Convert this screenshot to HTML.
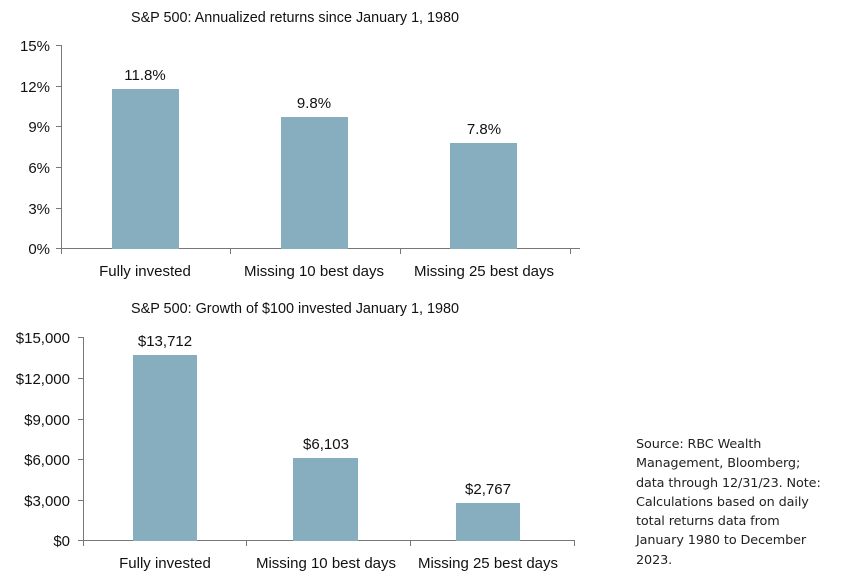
<!DOCTYPE html>
<html><head><style>
body{margin:0;background:#fff;width:841px;height:577px;overflow:hidden;position:relative}
svg{position:absolute;left:0;top:0}
.note{position:absolute;left:636px;top:435px;width:210px;font-family:"DejaVu Sans","Liberation Sans",sans-serif;font-size:12.8px;line-height:19.3px;color:#222;letter-spacing:-0.1px;white-space:nowrap}
</style></head><body>
<svg width="841" height="577" viewBox="0 0 841 577">
<g font-family="Liberation Sans,sans-serif" font-size="15" fill="#111">
<g text-anchor="end">
<text x="50" y="51">15%</text><text x="50" y="92">12%</text><text x="50" y="132">9%</text>
<text x="50" y="173">6%</text><text x="50" y="214">3%</text><text x="50" y="254">0%</text>
</g>
<g stroke="#777" stroke-width="1">
<line x1="61.5" y1="45" x2="61.5" y2="249"/>
<line x1="56" y1="45.5" x2="61" y2="45.5"/><line x1="56" y1="86.5" x2="61" y2="86.5"/>
<line x1="56" y1="126.5" x2="61" y2="126.5"/><line x1="56" y1="167.5" x2="61" y2="167.5"/>
<line x1="56" y1="208.5" x2="61" y2="208.5"/><line x1="56" y1="248.5" x2="580" y2="248.5"/>
<line x1="61.5" y1="249" x2="61.5" y2="254"/><line x1="230.5" y1="249" x2="230.5" y2="254"/>
<line x1="400.5" y1="249" x2="400.5" y2="254"/><line x1="570.5" y1="249" x2="570.5" y2="254"/>
</g>
<g fill="#87aebf">
<rect x="112" y="89" width="67" height="160"/>
<rect x="281" y="117" width="67" height="132"/>
<rect x="450" y="143" width="67" height="106"/>
</g>
<g text-anchor="middle">
<text x="145" y="80">11.8%</text><text x="314" y="108">9.8%</text><text x="484" y="134">7.8%</text>
<text x="145" y="276">Fully invested</text><text x="314" y="276">Missing 10 best days</text><text x="484" y="276">Missing 25 best days</text>
</g>
<text x="131" y="22" textLength="328" lengthAdjust="spacingAndGlyphs">S&amp;P 500: Annualized returns since January 1, 1980</text>
<text x="131" y="313" textLength="328" lengthAdjust="spacingAndGlyphs">S&amp;P 500: Growth of $100 invested January 1, 1980</text>

<g text-anchor="end">
<text x="70" y="343">$15,000</text><text x="70" y="384">$12,000</text><text x="70" y="425">$9,000</text>
<text x="70" y="465">$6,000</text><text x="70" y="506">$3,000</text><text x="70" y="546">$0</text>
</g>
<g stroke="#777" stroke-width="1">
<line x1="83.5" y1="337" x2="83.5" y2="541"/>
<line x1="78" y1="337.5" x2="83" y2="337.5"/><line x1="78" y1="378.5" x2="83" y2="378.5"/>
<line x1="78" y1="419.5" x2="83" y2="419.5"/><line x1="78" y1="459.5" x2="83" y2="459.5"/>
<line x1="78" y1="500.5" x2="83" y2="500.5"/><line x1="78" y1="540.5" x2="575" y2="540.5"/>
<line x1="83.5" y1="541" x2="83.5" y2="546"/><line x1="246.5" y1="541" x2="246.5" y2="546"/>
<line x1="410.5" y1="541" x2="410.5" y2="546"/><line x1="574.5" y1="541" x2="574.5" y2="546"/>
</g>
<g fill="#87aebf">
<rect x="133" y="355" width="64" height="186"/>
<rect x="293" y="458" width="65" height="83"/>
<rect x="456" y="503" width="64" height="38"/>
</g>
<g text-anchor="middle">
<text x="165" y="346">$13,712</text><text x="326" y="449">$6,103</text><text x="488" y="494">$2,767</text>
<text x="165" y="568">Fully invested</text><text x="326" y="568">Missing 10 best days</text><text x="488" y="568">Missing 25 best days</text>
</g>
</g>
</svg>
<div class="note">Source: RBC Wealth<br>Management, Bloomberg;<br>data through 12/31/23. Note:<br>Calculations based on daily<br>total returns data from<br>January 1980 to December<br>2023.</div>
</body></html>
